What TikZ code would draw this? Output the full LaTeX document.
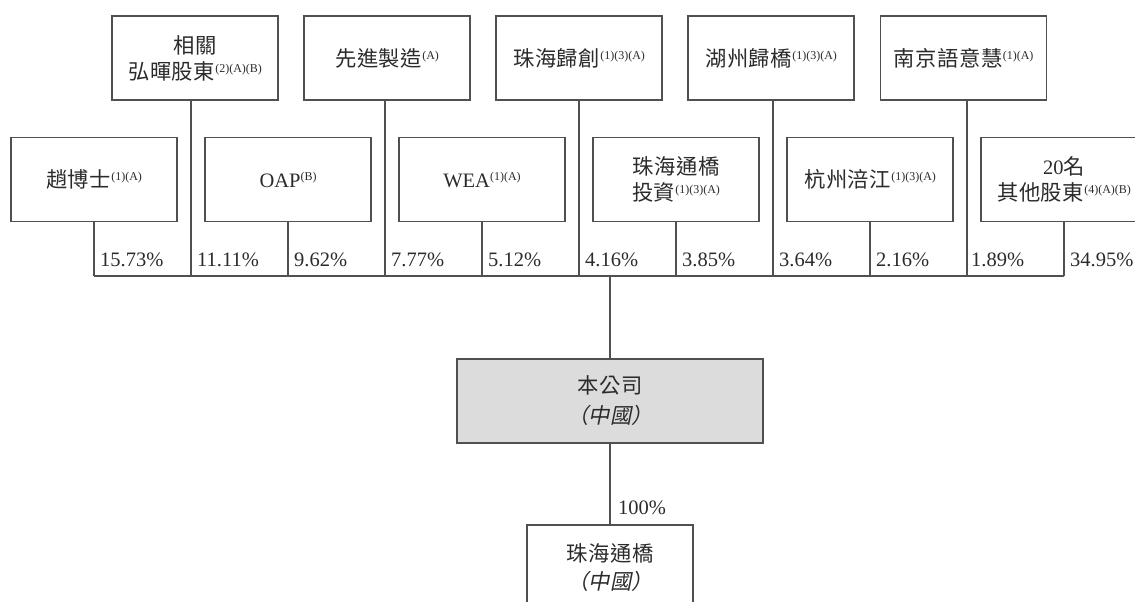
\documentclass[tikz,border=0pt]{standalone}
\usepackage{fontspec}
\setmainfont{Liberation Serif}
\newfontfamily\cjk[Scale=1.04,LetterSpace=3]{Noto Sans CJK TC}
\newfontfamily\cjkit[Scale=1.04,FakeSlant=0.2]{Noto Sans CJK TC}
\newcommand\zh[1]{{\cjk #1}}
\newcommand\nb[1]{\raisebox{7pt}{\fontsize{12pt}{12pt}\selectfont #1}}
\definecolor{txt}{HTML}{2B2B2B}
\definecolor{ln}{HTML}{505050}
\definecolor{cofill}{HTML}{DCDCDC}
\begin{document}
\begin{tikzpicture}[x=1pt,y=-1pt,
  every node/.style={text=txt,font=\fontsize{20.5pt}{26pt}\selectfont},
  holder/.style={draw=ln,line width=1.3pt,minimum width=166pt,minimum height=84pt,inner sep=0pt,align=center},
  conn/.style={draw=ln,line width=1.3pt},
  pct/.style={anchor=base west,inner sep=0pt}]
\useasboundingbox (0,0) rectangle (1135,602);
% top row
\node[holder] (t1) at (195,58) {\zh{相關}\\\zh{弘暉股東}\nb{(2)(A)(B)}};
\node[holder] (t2) at (387,58) {\zh{先進製造}\nb{(A)}};
\node[holder] (t3) at (579,58) {\zh{珠海歸創}\nb{(1)(3)(A)}};
\node[holder] (t4) at (771,58) {\zh{湖州歸橋}\nb{(1)(3)(A)}};
\node[holder] (t5) at (963.5,58) {\zh{南京語意慧}\nb{(1)(A)}};
% second row
\node[holder] (s1) at (94,179.5) {\zh{趙博士}\nb{(1)(A)}};
\node[holder] (s2) at (288,179.5) {OAP\nb{(B)}};
\node[holder] (s3) at (482,179.5) {WEA\nb{(1)(A)}};
\node[holder] (s4) at (676,179.5) {\zh{珠海通橋}\\\zh{投資}\nb{(1)(3)(A)}};
\node[holder] (s5) at (870,179.5) {\zh{杭州涪江}\nb{(1)(3)(A)}};
\node[holder] (s6) at (1064,179.5) {20\zh{名}\\\zh{其他股東}\nb{(4)(A)(B)}};
% bus coordinates
\coordinate (b1) at (94,276);
\coordinate (b2) at (191,276);
\coordinate (b3) at (288,276);
\coordinate (b4) at (385,276);
\coordinate (b5) at (482,276);
\coordinate (b6) at (579,276);
\coordinate (b7) at (676,276);
\coordinate (b8) at (773,276);
\coordinate (b9) at (870,276);
\coordinate (b10) at (967,276);
\coordinate (b11) at (1064,276);
\coordinate (bm) at (610,276);
% company
\node[holder,fill=cofill,minimum width=306pt] (co) at (610,401) {\zh{本公司}\\[4pt]{\cjkit （中國）}};
\node[holder,minimum width=166pt,minimum height=86pt] (sub) at (610,568) {\zh{珠海通橋}\\[2pt]{\cjkit （中國）}};
% connectors
\draw[conn] (s1.south) -- (b1);
\draw[conn] (t1.south -| b2) -- (b2);
\draw[conn] (s2.south) -- (b3);
\draw[conn] (t2.south -| b4) -- (b4);
\draw[conn] (s3.south) -- (b5);
\draw[conn] (t3.south -| b6) -- (b6);
\draw[conn] (s4.south) -- (b7);
\draw[conn] (t4.south -| b8) -- (b8);
\draw[conn] (s5.south) -- (b9);
\draw[conn] (t5.south -| b10) -- (b10);
\draw[conn] (s6.south) -- (b11);
\draw[conn] (b1) -- (b11);
\draw[conn] (bm) -- (co.north);
\draw[conn] (co.south) -- (sub.north);
% percentages
\node[pct] (p1) at (100,266) {15.73\%};
\node[pct] (p2) at (197,266) {11.11\%};
\node[pct] (p3) at (294,266) {9.62\%};
\node[pct] (p4) at (391,266) {7.77\%};
\node[pct] (p5) at (488,266) {5.12\%};
\node[pct] (p6) at (585,266) {4.16\%};
\node[pct] (p7) at (682,266) {3.85\%};
\node[pct] (p8) at (779,266) {3.64\%};
\node[pct] (p9) at (876,266) {2.16\%};
\node[pct] (p10) at (971,266) {1.89\%};
\node[pct] (p11) at (1070,266) {34.95\%};
\node[pct] (p12) at (618,514) {100\%};
\end{tikzpicture}
\end{document}
